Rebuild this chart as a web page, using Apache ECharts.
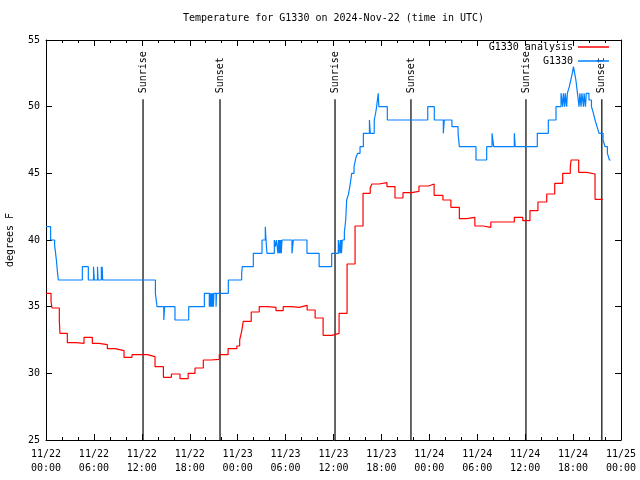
<!DOCTYPE html>
<html>
<head>
<meta charset="utf-8">
<script src="https://cdn.jsdelivr.net/npm/echarts@6/dist/echarts.min.js"></script>
<style>html,body{margin:0;padding:0;background:#fff;}#chart{width:640px;height:480px;}</style>
</head>
<body>
<div id="chart"></div>
<script>
// ---- data (x = hours since 2024-11-22 00:00 UTC) ----
const titleText = 'Temperature for G1330 on 2024-Nov-22 (time in UTC)';
const yTicks = [25, 30, 35, 40, 45, 50, 55];
const xTickHours = [0, 6, 12, 18, 24, 30, 36, 42, 48, 54, 60, 66, 72];

const analysisHours = [0.0, 0.63, 0.75, 1.67, 1.75, 2.67, 3.76, 4.76, 5.8, 6.64, 7.68, 8.64, 9.77, 10.77, 12.7, 13.65, 14.7, 15.7, 16.78, 17.8, 18.66, 19.7, 20.66, 21.7, 22.8, 23.9, 24.25, 24.5, 24.7, 25.7, 26.7, 27.76, 28.8, 29.7, 30.7, 31.7, 32.7, 33.7, 34.7, 35.8, 36.7, 37.7, 38.7, 39.7, 40.6, 40.8, 41.7, 42.7, 43.7, 44.7, 45.8, 46.7, 47.9, 48.6, 49.7, 50.7, 51.76, 52.7, 53.7, 54.76, 55.7, 58.64, 59.7, 60.6, 61.6, 62.7, 63.7, 64.7, 65.65, 65.75, 66.7, 67.7, 68.75, 69.7];
const analysisTemps = [36.0, 35.4, 34.9, 33.9, 33.0, 32.3, 32.25, 32.7, 32.25, 32.15, 31.85, 31.7, 31.2, 31.4, 31.25, 30.5, 29.7, 29.95, 29.6, 30.0, 30.4, 31.0, 31.05, 31.4, 31.85, 32.05, 32.5, 33.15, 33.9, 34.6, 35.0, 34.95, 34.7, 35.0, 34.95, 35.1, 34.75, 34.15, 32.85, 33.0, 34.5, 38.2, 41.05, 43.5, 43.9, 44.2, 44.3, 44.0, 43.15, 43.55, 43.65, 44.05, 44.2, 43.35, 43.0, 42.45, 41.6, 41.7, 41.05, 40.95, 41.35, 41.7, 41.45, 42.2, 42.85, 43.45, 44.25, 45.0, 45.45, 46.0, 45.07, 44.95, 43.05, 43.05];

const obsHours = [0.0, 0.58, 1.08, 1.2, 1.3, 1.45, 1.55, 4.55, 5.3, 5.95, 6.05, 6.45, 6.52, 6.93, 6.98, 7.03, 7.1, 13.7, 13.9, 14.75, 14.85, 16.15, 17.87, 19.83, 20.45, 20.5, 20.55, 20.62, 20.68, 20.75, 20.82, 20.9, 20.96, 21.03, 21.29, 21.35, 22.83, 24.5, 24.58, 25.96, 27.05, 27.46, 27.55, 27.67, 28.59, 28.72, 28.85, 29.05, 29.12, 29.18, 29.25, 29.32, 29.4, 29.46, 29.55, 30.8, 30.97, 32.68, 34.2, 35.77, 36.6, 36.7, 36.85, 36.9, 36.95, 37.0, 37.1, 37.36, 37.53, 37.65, 37.86, 38.07, 38.28, 38.57, 38.82, 39.03, 39.32, 39.74, 40.5, 40.6, 41.1, 41.3, 41.4, 41.6, 41.68, 42.74, 47.8, 48.62, 49.75, 49.87, 50.83, 51.6, 51.76, 53.84, 55.18, 55.85, 56.06, 58.64, 58.75, 61.52, 62.9, 63.86, 64.49, 64.7, 64.78, 64.95, 65.02, 65.2, 65.28, 65.53, 65.75, 65.9, 66.05, 66.2, 66.35, 66.55, 66.75, 66.85, 67.0, 67.1, 67.3, 67.38, 67.55, 67.65, 67.99, 68.3, 68.55, 68.75, 69.0, 69.25, 69.75, 70.0, 70.3, 70.55, 70.7];
const obsTemps = [41, 40, 39.6, 39, 38.5, 37.5, 37, 38, 37, 38, 37, 38, 37, 38, 37, 38, 37, 36, 35, 34, 35, 34, 35, 36, 35, 36, 35, 36, 35, 36, 35, 36, 35, 36, 35, 36, 37, 37.5, 38, 39, 40, 41, 40, 39, 40, 39.5, 40, 39, 40, 39, 40, 39, 40, 39, 40, 39, 40, 39, 38, 39, 40, 39, 40, 39, 40, 39, 40, 40.6, 41.5, 43, 43.4, 44.1, 45, 45.5, 46.2, 46.5, 47, 48, 49, 48, 49, 49.6, 50, 51, 50, 49, 50, 49, 48, 49, 48.5, 48, 47, 46, 47, 48, 47, 48, 47, 48, 49, 50, 51, 50, 51, 50, 51, 50, 51, 51.5, 52.1, 52.5, 53, 52.5, 52, 51, 50, 51, 50, 51, 50, 51, 50, 51, 50.5, 50, 49.5, 49, 48.5, 48, 47.5, 47, 46.5, 46, 46];

const sunHours = [12.15, 21.79, 36.19, 45.7, 60.1, 69.6];
const sunNames = ['Sunrise', 'Sunset', 'Sunrise', 'Sunset', 'Sunrise', 'Sunset'];
const sunLineTop = 50.55;

const seriesNames = ['G1330 analysis', 'G1330'];
const seriesColors = ['#ff0000', '#0080ff'];

// ---- build ----
const FONT = 'DejaVu Sans Mono';
const zip = (a, b) => a.map((v, i) => [v, b[i]]);
function xLabel(v) {
  const day = 22 + Math.floor(v / 24);
  const hh = v % 24;
  return '11/' + day + '\n' + String(hh).padStart(2, '0') + ':00';
}

const baseAxisLine = { show: true, onZero: false, lineStyle: { color: '#000', width: 1 } };
const series = [
  { name: seriesNames[0], type: 'line', step: 'end', data: zip(analysisHours, analysisTemps),
    showSymbol: false, symbol: 'none', lineStyle: { color: seriesColors[0], width: 1.2 }, itemStyle: { color: seriesColors[0] }, z: 3 },
  { name: seriesNames[1], type: 'line', step: 'end', data: zip(obsHours, obsTemps),
    showSymbol: false, symbol: 'none', lineStyle: { color: seriesColors[1], width: 1.2 }, itemStyle: { color: seriesColors[1] }, z: 4 }
];
sunHours.forEach((h, i) => {
  series.push({
    type: 'line', name: 'sun' + i, silent: true, z: 2,
    symbol: 'circle', symbolSize: 0.01, showSymbol: true,
    lineStyle: { color: '#000', width: 1.2 }, itemStyle: { color: '#000' },
    data: [
      { value: [h, sunLineTop], label: { show: true, formatter: sunNames[i], rotate: 90, position: 'top', distance: 6,
        align: 'left', verticalAlign: 'middle', color: '#000', fontFamily: FONT, fontSize: 10 } },
      { value: [h, 25] }
    ]
  });
});

const chart = echarts.init(document.getElementById('chart'), null, { renderer: 'canvas' });
chart.setOption({
  animation: false,
  backgroundColor: '#fff',
  title: { text: titleText, left: 183, top: 13, padding: 0, textStyle: { fontFamily: FONT, fontSize: 10, fontWeight: 'normal', color: '#000' } },
  grid: { left: 46, right: 19, top: 40, bottom: 40, show: false, containLabel: false, outerBoundsMode: 'none' },
  legend: [
    { data: [seriesNames[0]], right: 31, top: 42, orient: 'vertical', align: 'right', icon: 'rect', itemWidth: 31, itemHeight: 1.5, padding: 0,
      textStyle: { fontFamily: FONT, fontSize: 10, color: '#000' } },
    { data: [seriesNames[1]], right: 31, top: 56, orient: 'vertical', align: 'right', icon: 'rect', itemWidth: 31, itemHeight: 1.5, padding: 0,
      textStyle: { fontFamily: FONT, fontSize: 10, color: '#000' } }
  ],
  xAxis: [
    { type: 'value', min: xTickHours[0], max: xTickHours[xTickHours.length - 1], interval: 6, position: 'bottom',
      axisLine: baseAxisLine, axisTick: { show: true, inside: true, length: 6, lineStyle: { color: '#000' } },
      minorTick: { show: true, splitNumber: 3, length: 3, lineStyle: { color: '#000' } },
      splitLine: { show: false },
      axisLabel: { formatter: xLabel, color: '#000', fontFamily: FONT, fontSize: 10, lineHeight: 14, margin: 7 } },
    { type: 'value', min: xTickHours[0], max: xTickHours[xTickHours.length - 1], interval: 6, position: 'top',
      axisLine: baseAxisLine, axisTick: { show: true, inside: true, length: 6, lineStyle: { color: '#000' } },
      minorTick: { show: true, splitNumber: 3, length: 3, lineStyle: { color: '#000' } },
      splitLine: { show: false }, axisLabel: { show: false } }
  ],
  yAxis: [
    { type: 'value', min: yTicks[0], max: yTicks[yTicks.length - 1], interval: 5, position: 'left',
      name: 'degrees F', nameLocation: 'middle', nameGap: 31, nameRotate: 90,
      nameTextStyle: { fontFamily: FONT, fontSize: 10, color: '#000' },
      axisLine: baseAxisLine, axisTick: { show: true, inside: true, length: 6, lineStyle: { color: '#000' } },
      splitLine: { show: false },
      axisLabel: { color: '#000', fontFamily: FONT, fontSize: 10, margin: 6 } },
    { type: 'value', min: yTicks[0], max: yTicks[yTicks.length - 1], interval: 5, position: 'right',
      axisLine: baseAxisLine, axisTick: { show: true, inside: true, length: 6, lineStyle: { color: '#000' } },
      splitLine: { show: false }, axisLabel: { show: false } }
  ],
  series: series
});
</script>
</body>
</html>
